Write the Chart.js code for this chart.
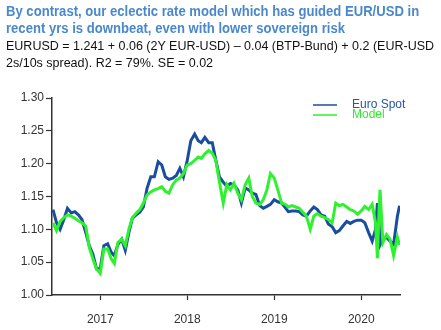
<!DOCTYPE html>
<html>
<head>
<meta charset="utf-8">
<script src="https://cdn.jsdelivr.net/npm/chart.js@4"></script>
<style>
  html, body { margin: 0; padding: 0; background: #fff; }
  #wrap { position: relative; width: 441px; height: 330px; overflow: hidden; }
  #chart { position: absolute; left: 0; top: 0; }
  .t { position: absolute; left: 6px; white-space: nowrap; font-family: "Liberation Sans", Arial, sans-serif; transform-origin: 0 0; }
  .head { color: #4a88cc; font-weight: bold; font-size: 14px; transform: scaleX(0.935); }
  .sub { color: #111; font-size: 12.5px; }
</style>
</head>
<body>
<div id="wrap">
  <canvas id="chart" width="441" height="330"></canvas>
  <div class="t head" style="top:3px">By contrast, our eclectic rate model which has guided EUR/USD in</div>
  <div class="t head" style="top:20px">recent yrs is downbeat, even with lower sovereign risk</div>
  <div class="t sub" style="top:39px">EURUSD = 1.241 + 0.06 (2Y EUR-USD) – 0.04 (BTP-Bund) + 0.2 (EUR-USD</div>
  <div class="t sub" style="top:56px">2s/10s spread). R2 = 79%. SE = 0.02</div>
</div>
<script>
// Observation dates (roughly twice a month, extra points around March 2020)
const dates = [
  '2016-06-16','2016-07-01','2016-07-16','2016-08-01','2016-08-16','2016-09-01','2016-09-16','2016-10-01','2016-10-16','2016-11-01','2016-11-16','2016-12-01','2016-12-16',
  '2017-01-01','2017-01-16','2017-02-01','2017-02-16','2017-03-01','2017-03-16','2017-04-01','2017-04-16','2017-05-01','2017-05-16','2017-06-01','2017-06-16',
  '2017-07-01','2017-07-16','2017-08-01','2017-08-16','2017-09-01','2017-09-16','2017-10-01','2017-10-16','2017-11-01','2017-11-16','2017-12-01','2017-12-16',
  '2018-01-01','2018-01-16','2018-02-01','2018-02-16','2018-03-01','2018-03-16','2018-04-01','2018-04-16','2018-05-01','2018-05-16','2018-06-01','2018-06-16',
  '2018-07-01','2018-07-16','2018-08-01','2018-08-16','2018-09-01','2018-09-16','2018-10-01','2018-10-16','2018-11-01','2018-11-16','2018-12-01','2018-12-16',
  '2019-01-01','2019-01-16','2019-02-01','2019-02-16','2019-03-01','2019-03-16','2019-04-01','2019-04-16','2019-05-01','2019-05-16','2019-06-01','2019-06-16',
  '2019-07-01','2019-07-16','2019-08-01','2019-08-16','2019-09-01','2019-09-16','2019-10-01','2019-10-16','2019-11-01','2019-11-16','2019-12-01','2019-12-16',
  '2020-01-01','2020-01-16','2020-02-01','2020-02-16','2020-03-01','2020-03-09','2020-03-16','2020-03-20','2020-04-01','2020-04-16','2020-05-01','2020-05-16',
  '2020-06-01','2020-06-10'
];

// EUR/USD spot
const euroSpot = [
  1.130,1.110,1.100,1.115,1.132,1.125,1.127,1.122,1.115,1.095,1.075,1.062,1.040,
  1.040,1.075,1.078,1.065,1.060,1.077,1.085,1.068,1.095,1.117,1.122,1.126,
  1.134,1.162,1.180,1.180,1.203,1.198,1.180,1.176,1.178,1.182,1.193,1.180,
  1.205,1.235,1.245,1.235,1.232,1.240,1.232,1.232,1.205,1.180,1.172,1.165,
  1.170,1.168,1.160,1.140,1.163,1.160,1.155,1.153,1.136,1.132,1.135,1.138,
  1.145,1.142,1.140,1.133,1.127,1.128,1.128,1.127,1.122,1.120,1.128,1.134,
  1.130,1.122,1.120,1.108,1.104,1.095,1.098,1.105,1.112,1.109,1.112,1.114,
  1.114,1.110,1.095,1.082,1.100,1.140,1.110,1.076,1.085,1.088,1.082,1.077,
  1.120,1.136
];

// Rate model fair value
const model = [
  1.110,1.098,1.112,1.118,1.122,1.120,1.117,1.113,1.110,1.105,1.072,1.055,1.040,
  1.033,1.070,1.070,1.055,1.048,1.080,1.085,1.075,1.100,1.118,1.125,1.130,
  1.140,1.152,1.157,1.160,1.162,1.165,1.158,1.155,1.168,1.175,1.178,1.185,
  1.198,1.200,1.205,1.210,1.208,1.215,1.220,1.216,1.205,1.172,1.140,1.168,
  1.160,1.170,1.155,1.145,1.168,1.178,1.150,1.140,1.138,1.145,1.160,1.185,
  1.178,1.160,1.140,1.138,1.134,1.136,1.134,1.132,1.126,1.120,1.100,1.120,
  1.124,1.120,1.118,1.115,1.110,1.140,1.136,1.138,1.134,1.130,1.128,1.123,
  1.128,1.135,1.130,1.138,1.110,1.056,1.130,1.160,1.080,1.092,1.085,1.060,
  1.088,1.076
];

const yearTicks = [2017, 2018, 2019, 2020];
const seriesNames = ['Euro Spot', 'Model'];

function toYear(iso) {
  const d = new Date(iso + 'T00:00:00Z');
  const y = d.getUTCFullYear();
  const start = Date.UTC(y, 0, 1), end = Date.UTC(y + 1, 0, 1);
  return y + (d.getTime() - start) / (end - start);
}

const xs = dates.map(toYear);
const pts = arr => arr.map((v, i) => ({ x: xs[i], y: v }));

const BLUE = '#1b4d9f';
const GREEN = '#2ef22e';
const AXIS = '#333333';
const FONT = '"Liberation Sans", Arial, sans-serif';

// Small legend drawn in the upper right of the plot area
const insetLegend = {
  id: 'insetLegend',
  afterDraw(chart) {
    const ctx = chart.ctx;
    const a = chart.chartArea;
    const items = [
      { label: seriesNames[0], color: BLUE, text: '#2457a8' },
      { label: seriesNames[1], color: GREEN, text: '#33e833' }
    ];
    ctx.save();
    ctx.font = '12px ' + FONT;
    ctx.textBaseline = 'middle';
    items.forEach((it, i) => {
      const y = a.top + 7 + i * 10;
      ctx.strokeStyle = it.color;
      ctx.lineWidth = 1.5;
      ctx.beginPath();
      ctx.moveTo(a.left + 261, y);
      ctx.lineTo(a.left + 285, y);
      ctx.stroke();
      ctx.fillStyle = it.text;
      ctx.fillText(it.label, a.left + 300, y);
    });
    ctx.restore();
  }
};

new Chart(document.getElementById('chart'), {
  type: 'line',
  data: {
    datasets: [
      { label: seriesNames[1], data: pts(model), borderColor: GREEN, borderWidth: 3, pointRadius: 0, tension: 0, order: 1 },
      { label: seriesNames[0], data: pts(euroSpot), borderColor: BLUE, borderWidth: 3, pointRadius: 0, tension: 0, order: 2 }
    ]
  },
  options: {
    responsive: false,
    animation: false,
    layout: { padding: { top: 98, left: 0, right: 41, bottom: 0 } },
    plugins: { legend: { display: false }, tooltip: { enabled: false } },
    scales: {
      x: {
        type: 'linear',
        min: toYear('2016-06-12'),
        max: toYear('2020-06-12'),
        afterBuildTicks: s => { s.ticks = yearTicks.map(v => ({ value: v })); },
        afterFit: s => { s.height = 35; },
        grid: { drawOnChartArea: false, tickLength: 5, color: AXIS, tickWidth: 1.2 },
        border: { color: AXIS, width: 1.5 },
        ticks: { color: '#333', font: { family: FONT, size: 12 }, padding: 12, maxRotation: 0, callback: v => String(v) }
      },
      y: {
        min: 1.0,
        max: 1.3,
        afterFit: s => { s.width = 52; },
        grid: { drawOnChartArea: false, tickLength: 6, color: AXIS, tickWidth: 1.2 },
        border: { color: AXIS, width: 1.5 },
        ticks: { stepSize: 0.05, color: '#333', font: { family: FONT, size: 12 }, padding: 2, callback: v => v.toFixed(2) }
      }
    }
  },
  plugins: [insetLegend]
});
</script>
</body>
</html>
